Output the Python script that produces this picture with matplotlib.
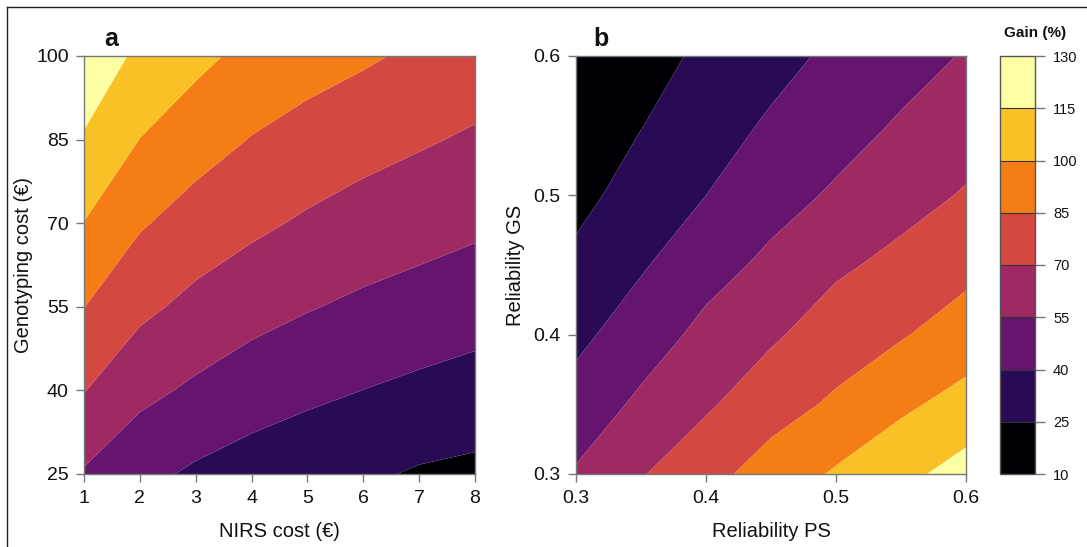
import numpy as np
import matplotlib
matplotlib.use("Agg")
import matplotlib.pyplot as plt
from matplotlib.colors import ListedColormap, BoundaryNorm
from matplotlib.lines import Line2D

plt.rcParams['font.family'] = ['Liberation Sans', 'DejaVu Sans']

# ---- data ----
levels = [10, 25, 40, 55, 70, 85, 100, 115, 130]
colors = ["#000004", "#280B54", "#65156E", "#9F2A63", "#D44842", "#F57D15", "#FAC127", "#FCFFA4"]

nirs_cost = [1, 2, 3, 4, 5, 6, 7, 8]
geno_cost = [25, 40, 55, 70, 85, 100]
gain_a = [
    [53.6, 43.9, 37.7, 33.4, 30.2, 27.3, 23.5, 21.7],
    [70.5, 58.9, 52.5, 47.0, 43.1, 39.9, 36.9, 34.3],
    [85.2, 73.4, 66.0, 60.3, 55.9, 52.3, 49.3, 46.4],
    [99.7, 86.5, 78.7, 73.0, 68.0, 63.8, 60.8, 57.7],
    [113.4, 99.8, 91.2, 84.4, 79.6, 75.3, 71.6, 68.1],
    [127.2, 111.5, 103.8, 95.8, 90.9, 87.0, 82.4, 78.4],
]

rel_ps = [0.30, 0.35, 0.40, 0.45, 0.50, 0.55, 0.60]
rel_gs = [0.30, 0.35, 0.40, 0.45, 0.50, 0.55, 0.60]
gain_b = [
    [56.5, 69.0, 80.0, 91.6, 101.7, 111.0, 121.0],
    [45.8, 57.9, 68.0, 78.9, 87.3, 97.2, 105.3],
    [36.5, 47.6, 59.0, 67.9, 77.3, 83.8, 92.0],
    [28.5, 38.5, 49.6, 58.1, 67.6, 73.8, 80.9],
    [20.5, 31.5, 40.0, 49.7, 56.9, 64.8, 71.2],
    [16.0, 24.6, 33.8, 41.9, 49.5, 56.5, 63.5],
    [12.2, 19.9, 27.6, 35.4, 42.8, 49.7, 56.0],
]

xticks_a = [1, 2, 3, 4, 5, 6, 7, 8]
yticks_a = [25, 40, 55, 70, 85, 100]
ticks_b = [0.3, 0.4, 0.5, 0.6]

# ---- figure ----
W, H = 1087, 547
fig = plt.figure(figsize=(W / 100, H / 100), dpi=100)

def px_axes(l, r, t, b):
    return fig.add_axes([l / W, 1 - b / H, (r - l) / W, (b - t) / H])

cmap = ListedColormap(colors)
norm = BoundaryNorm(levels, cmap.N)
spine_c = "#777777"
text_c = "#111111"

def style(ax):
    for s in ax.spines.values():
        s.set_color(spine_c)
        s.set_linewidth(1.0)
    ax.tick_params(direction='out', length=6, width=1.0, color=spine_c,
                   labelsize=14, labelcolor=text_c)
    ax.tick_params(axis='x', pad=5.5)
    ax.tick_params(axis='y', pad=5)

axa = px_axes(84, 475, 56, 474)
axa.contourf(nirs_cost, geno_cost, gain_a, levels=levels, colors=colors, antialiased=True)
axa.set_xlim(1, 8)
axa.set_ylim(25, 100)
axa.set_xticks(xticks_a)
axa.set_yticks(yticks_a)
style(axa)
axa.set_xlabel("NIRS cost (€)", fontsize=14.5, color=text_c, labelpad=11)
axa.set_ylabel("Genotyping cost (€)", fontsize=14.5, color=text_c, labelpad=2)
axa.text(0.07, 1.012, "a", transform=axa.transAxes, fontsize=18, fontweight='bold',
         ha='center', va='bottom', color=text_c)

axb = px_axes(576, 966, 56, 474)
axb.contourf(rel_ps, rel_gs, gain_b, levels=levels, colors=colors, antialiased=True)
axb.set_xlim(0.3, 0.6)
axb.set_ylim(0.3, 0.6)
axb.set_xticks(ticks_b)
axb.set_yticks(ticks_b)
axb.set_xticklabels([f"{t:.1f}" for t in ticks_b])
axb.set_yticklabels([f"{t:.1f}" for t in ticks_b])
style(axb)
axb.set_xlabel("Reliability PS", fontsize=14.5, color=text_c, labelpad=11)
axb.set_ylabel("Reliability GS", fontsize=14.5, color=text_c, labelpad=6)
axb.text(0.065, 1.012, "b", transform=axb.transAxes, fontsize=18, fontweight='bold',
         ha='center', va='bottom', color=text_c)

cax = px_axes(1000, 1035, 56, 474)
sm = matplotlib.cm.ScalarMappable(norm=norm, cmap=cmap)
cb = fig.colorbar(sm, cax=cax, boundaries=levels, ticks=levels, drawedges=True)
cb.outline.set_edgecolor("#555555")
cb.outline.set_linewidth(1.0)
cb.dividers.set_color("#333333")
cb.dividers.set_linewidth(0.8)
cax.tick_params(direction='out', length=7, width=1.0, color=spine_c,
                labelsize=10.5, labelcolor=text_c, pad=6)
cax.set_yticklabels([str(v) for v in levels])
fig.text(1035 / W, 1 - 33 / H, "Gain (%)", fontsize=11, fontweight='bold',
         ha='center', va='center', color=text_c)

# outer frame lines (top and left)
fig.add_artist(Line2D([7 / W, 1.0], [1 - 7 / H, 1 - 7 / H], transform=fig.transFigure,
                      color="#222222", linewidth=1.0))
fig.add_artist(Line2D([7 / W, 7 / W], [0.0, 1 - 7 / H], transform=fig.transFigure,
                      color="#222222", linewidth=1.0))

fig.savefig("out.png", dpi=100)
